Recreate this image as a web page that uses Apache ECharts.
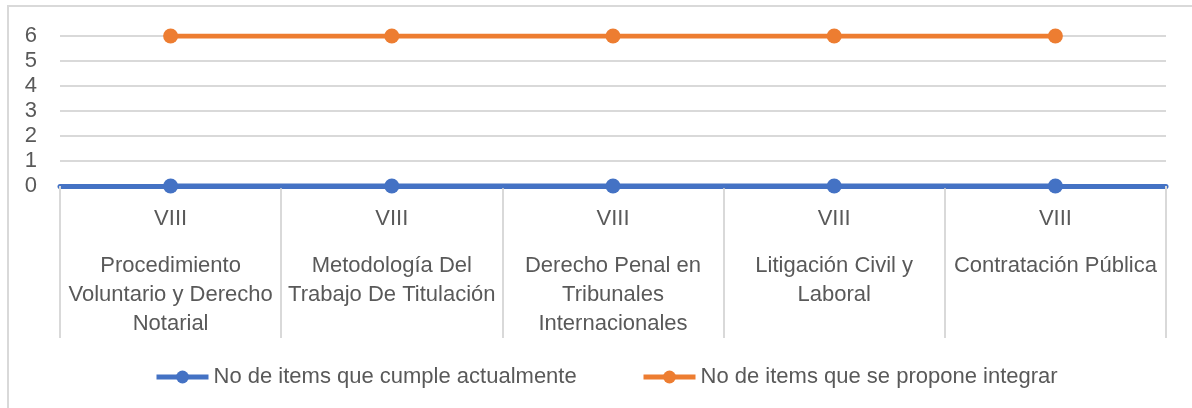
<!DOCTYPE html>
<html>
<head>
<meta charset="utf-8">
<script src="https://cdn.jsdelivr.net/npm/echarts@6/dist/echarts.min.js"></script>
<style>
  html, body { margin: 0; padding: 0; background: #fff; }
  #chart { width: 1192px; height: 408px; }
</style>
</head>
<body>
<div id="chart"></div>
<script>
// -----------------------------------------------------------------------------
// Data
// -----------------------------------------------------------------------------
const semesters = ["VIII", "VIII", "VIII", "VIII", "VIII"];
const subjects = [
  "Procedimiento\nVoluntario y Derecho\nNotarial",
  "Metodología Del\nTrabajo De Titulación",
  "Derecho Penal en\nTribunales\nInternacionales",
  "Litigación Civil y\nLaboral",
  "Contratación Pública",
];
const currentItems = [0, 0, 0, 0, 0];
const proposedItems = [6, 6, 6, 6, 6];
const seriesNames = [
  "No de items que cumple actualmente",
  "No de items que se propone integrar",
];
const yMin = 0;
const yMax = 6;
const yStep = 1;

// -----------------------------------------------------------------------------
// Chart
// -----------------------------------------------------------------------------
const FONT = "Liberation Sans";
const TEXT = "#595959";
const GRID = "#d9d9d9";
const BLUE = "#4472C4";
const ORANGE = "#ED7D31";

const categories = semesters.map((s, i) => `${s}|${subjects[i]}`);

const chart = echarts.init(document.getElementById("chart"), null, { renderer: "canvas" });

// legend entries sit at fixed spots, like the original
const legendBase = {
  top: 361,
  itemWidth: 52,
  itemHeight: 16,
  itemGap: 6,
  lineStyle: { width: 5 },
  textStyle: { color: TEXT, fontSize: 22, fontFamily: FONT },
};

chart.setOption({
  animation: false,
  backgroundColor: "#fff",
  graphic: [
    {
      type: "rect",
      shape: { x: 8, y: 6, width: 1200, height: 420 },
      style: { fill: "none", stroke: GRID, lineWidth: 2 },
      silent: true,
    },
  ],
  grid: { left: 60, right: 26, top: 36, bottom: 222 },
  legend: [
    { ...legendBase, data: [seriesNames[0]], left: 149 },
    { ...legendBase, data: [seriesNames[1]], left: 636 },
  ],
  xAxis: {
    type: "category",
    data: categories,
    boundaryGap: true,
    axisLine: { lineStyle: { color: BLUE, width: 5 } },
    axisTick: { show: true, length: 152, lineStyle: { color: GRID, width: 2 } },
    axisLabel: {
      interval: 0,
      margin: 18,
      color: TEXT,
      fontFamily: FONT,
      formatter: (value) => {
        const [sem, subj] = value.split("|");
        const lines = subj.split("\n").map((l) => `{s|${l}}`).join("\n");
        return `{v|${sem}}\n{g| }\n${lines}`;
      },
      rich: {
        v: { fontSize: 22, lineHeight: 29, color: TEXT, fontFamily: FONT },
        g: { fontSize: 10, lineHeight: 18 },
        s: { fontSize: 22, lineHeight: 29, color: TEXT, fontFamily: FONT },
      },
    },
  },
  yAxis: {
    type: "value",
    min: yMin,
    max: yMax,
    interval: yStep,
    axisLine: { show: false },
    axisTick: { show: false },
    axisLabel: { margin: 23, color: TEXT, fontSize: 22, fontFamily: FONT },
    splitLine: { lineStyle: { color: GRID, width: 2 } },
  },
  series: [
    {
      name: seriesNames[0],
      type: "line",
      data: currentItems,
      symbol: "circle",
      symbolSize: 15,
      itemStyle: { color: BLUE },
      lineStyle: { color: BLUE, width: 5 },
    },
    {
      name: seriesNames[1],
      type: "line",
      data: proposedItems,
      symbol: "circle",
      symbolSize: 15,
      itemStyle: { color: ORANGE },
      lineStyle: { color: ORANGE, width: 5 },
    },
  ],
});

window.addEventListener("resize", () => chart.resize());
</script>
</body>
</html>
